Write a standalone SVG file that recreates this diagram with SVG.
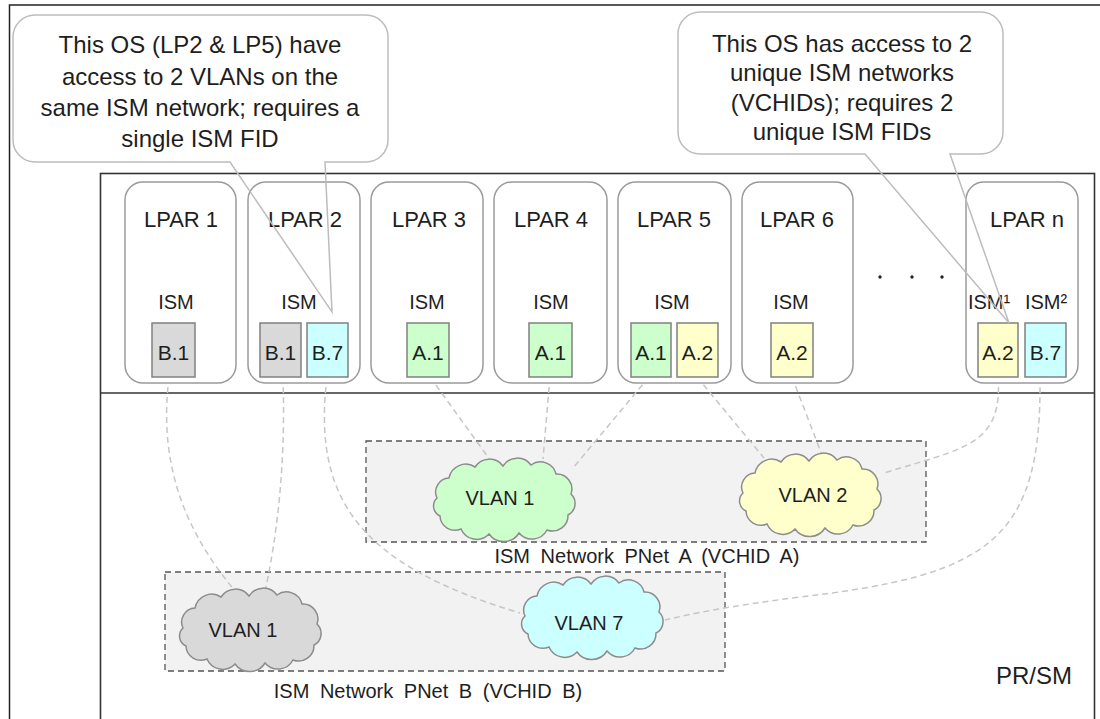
<svg xmlns="http://www.w3.org/2000/svg" width="1100" height="719" viewBox="0 0 1100 719">
<style>
text{font-family:"Liberation Sans",Arial,sans-serif;fill:#1e1e1e}
.lpar{fill:#fff;stroke:#9a9a9a;stroke-width:1.5}
.lbl{font-size:22px;text-anchor:middle}
.ism{font-size:20px;text-anchor:middle}
.bx{stroke:#808080;stroke-width:1.5}
.bt{font-size:21px;text-anchor:middle}
.gray{fill:#d9d9d9}.cyan{fill:#ccffff}.green{fill:#ccffcc}.yellow{fill:#ffffcc}
.net{fill:#f2f2f2;stroke:#555;stroke-width:1.3;stroke-dasharray:6 4}
.nl{font-size:20px;text-anchor:middle;word-spacing:5px}
.vl{font-size:20px;text-anchor:middle}
.conn path{fill:none;stroke:#c6c6c6;stroke-width:1.5;stroke-dasharray:6 4}
.call{fill:none;stroke:#bdbdbd;stroke-width:1.5}
.ct{font-size:24px;text-anchor:middle}
</style>
<defs>
<path id="cloud" stroke="#8c8c8c" stroke-width="1.5" d="M6,40 A14,14 0 0 1 18,20 A17,17 0 0 1 44,9 A17,17 0 0 1 72,8 A17,17 0 0 1 100,7 A16,16 0 0 1 125,16 A15,15 0 0 1 140,36 A13,13 0 0 1 137,57 A15.5,15.5 0 0 1 116,72 A17,17 0 0 1 88,75 A18,18 0 0 1 58,76 A17,17 0 0 1 30,71 A15,15 0 0 1 9,58 A11,11 0 0 1 6,40 Z"/>
</defs>
<rect width="1100" height="719" fill="#fff"/>
<g id="frame" fill="none" stroke="#222" stroke-width="1.5">
<path d="M9.5,719 V5 H1100"/>
</g>
<g id="prsm">
<rect x="100.5" y="173.5" width="994" height="560" fill="#fff" stroke="#333" stroke-width="1.6"/>
<line x1="100" y1="393" x2="1094" y2="393" stroke="#333" stroke-width="1.6"/>
<text x="996" y="684" style="font-size:24px">PR/SM</text>
</g>
<g id="netA">
<rect class="net" x="366" y="441" width="560" height="101"/>
<text class="nl" x="647" y="563">ISM Network PNet A (VCHID A)</text>
</g>
<g id="netB">
<rect class="net" x="165" y="572" width="560" height="99"/>
<text class="nl" x="428" y="698">ISM Network PNet B (VCHID B)</text>
</g>
<g class="conn" id="connectors">
<path d="M169,377 C160,450 175,520 236,592"/>
<path d="M283,377 C286,470 276,540 265,592"/>
<path d="M327,377 C312,500 360,565 520,613"/>
<path d="M430,377 L488,457"/>
<path d="M550,377 L543,459"/>
<path d="M649,377 L573,468"/>
<path d="M697,377 L764,458"/>
<path d="M792,377 L822,455"/>
<path d="M998,377 C1003,445 965,448 884,473"/>
<path d="M1040,377 C1042,540 990,575 800,597 C730,606 690,614 665,620"/>
</g>
<g id="vlanB1"><use href="#cloud" x="177" y="588" class="gray"/><text class="vl" x="243" y="637">VLAN 1</text></g>
<g id="vlanA1"><use href="#cloud" x="431" y="458" class="green"/><text class="vl" x="500" y="505">VLAN 1</text></g>
<g id="vlanA2"><use href="#cloud" x="737" y="453" class="yellow"/><text class="vl" x="813" y="502">VLAN 2</text></g>
<g id="vlanB7"><use href="#cloud" x="519" y="576" class="cyan"/><text class="vl" x="589" y="630">VLAN 7</text></g>
<g id="lpar1">
<rect class="lpar" x="125" y="182" width="111" height="201" rx="18"/>
<text class="lbl" x="181" y="227">LPAR 1</text>
<text class="ism" x="176" y="309">ISM</text>
<rect class="bx gray" x="152" y="323" width="43" height="54"/>
<text class="bt" x="173.5" y="360">B.1</text>
</g>
<g id="lpar2">
<rect class="lpar" x="248" y="182" width="112" height="201" rx="18"/>
<text class="lbl" x="305" y="227">LPAR 2</text>
<text class="ism" x="299" y="309">ISM</text>
<rect class="bx gray" x="260" y="323" width="41" height="54"/>
<text class="bt" x="280.5" y="360">B.1</text>
<rect class="bx cyan" x="307" y="323" width="41" height="54"/>
<text class="bt" x="327.5" y="360">B.7</text>
</g>
<g id="lpar3">
<rect class="lpar" x="371" y="182" width="112" height="201" rx="18"/>
<text class="lbl" x="429" y="227">LPAR 3</text>
<text class="ism" x="427" y="309">ISM</text>
<rect class="bx green" x="407" y="323" width="42" height="54"/>
<text class="bt" x="428" y="360">A.1</text>
</g>
<g id="lpar4">
<rect class="lpar" x="494" y="182" width="113" height="201" rx="18"/>
<text class="lbl" x="551" y="227">LPAR 4</text>
<text class="ism" x="551" y="309">ISM</text>
<rect class="bx green" x="529" y="323" width="43" height="54"/>
<text class="bt" x="550.5" y="360">A.1</text>
</g>
<g id="lpar5">
<rect class="lpar" x="618" y="182" width="113" height="201" rx="18"/>
<text class="lbl" x="674" y="227">LPAR 5</text>
<text class="ism" x="672" y="309">ISM</text>
<rect class="bx green" x="631" y="323" width="40" height="54"/>
<text class="bt" x="651" y="360">A.1</text>
<rect class="bx yellow" x="677" y="323" width="41" height="54"/>
<text class="bt" x="697.5" y="360">A.2</text>
</g>
<g id="lpar6">
<rect class="lpar" x="742" y="182" width="111" height="201" rx="18"/>
<text class="lbl" x="797" y="227">LPAR 6</text>
<text class="ism" x="791" y="309">ISM</text>
<rect class="bx yellow" x="771" y="323" width="42" height="54"/>
<text class="bt" x="792" y="360">A.2</text>
</g>
<g id="ellipsis" fill="#222">
<circle cx="880" cy="277" r="1.7"/><circle cx="912" cy="277" r="1.7"/><circle cx="942" cy="277" r="1.7"/>
</g>
<g id="lparn">
<rect class="lpar" x="966" y="182" width="112" height="201" rx="18"/>
<text class="lbl" x="1027" y="227">LPAR n</text>
<text class="ism" x="989" y="309">ISM¹</text>
<text class="ism" x="1046" y="309">ISM²</text>
<rect class="bx yellow" x="978" y="323" width="40" height="54"/>
<text class="bt" x="998" y="360">A.2</text>
<rect class="bx cyan" x="1025" y="323" width="41" height="54"/>
<text class="bt" x="1045.5" y="360">B.7</text>
</g>
<g id="callout1">
<path class="call" d="M35,15 H366 A22,22 0 0 1 388,37 V140 A22,22 0 0 1 366,162 H325 L332,312 L230,162 H35 A22,22 0 0 1 13,140 V37 A22,22 0 0 1 35,15 Z"/>
<text class="ct" x="200" y="53">This OS (LP2 &amp; LP5) have</text>
<text class="ct" x="200" y="85">access to 2 VLANs on the</text>
<text class="ct" x="200" y="116">same ISM network; requires a</text>
<text class="ct" x="200" y="147">single ISM FID</text>
</g>
<g id="callout2">
<path class="call" d="M700,12 H981 A22,22 0 0 1 1003,34 V132 A22,22 0 0 1 981,154 H950 L1009,323 L865,154 H700 A22,22 0 0 1 678,132 V34 A22,22 0 0 1 700,12 Z"/>
<text class="ct" x="842" y="52">This OS has access to 2</text>
<text class="ct" x="842" y="81">unique ISM networks</text>
<text class="ct" x="842" y="111">(VCHIDs); requires 2</text>
<text class="ct" x="842" y="140">unique ISM FIDs</text>
</g>
</svg>
